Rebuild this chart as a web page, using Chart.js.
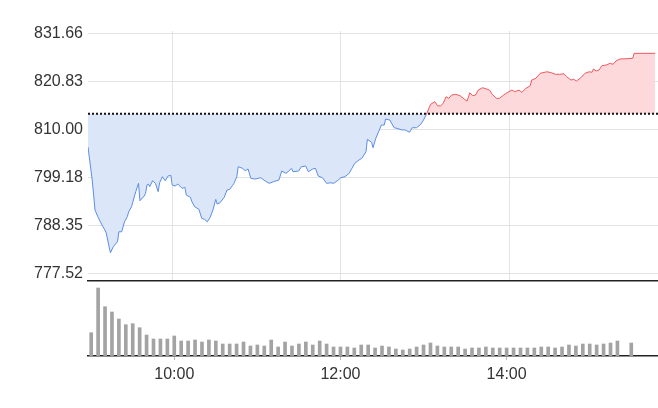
<!DOCTYPE html>
<html>
<head>
<meta charset="utf-8">
<script src="https://cdn.jsdelivr.net/npm/chart.js@4/dist/chart.umd.min.js"></script>
<style>
  body { margin: 0; background: #fff; }
  #price { position: absolute; left: 0; top: 0; }
  #vol { position: absolute; left: 0; top: 281px; }
</style>
</head>
<body>
<canvas id="price" width="658" height="282"></canvas>
<canvas id="vol" width="658" height="127"></canvas>
<script>
// previous close (dotted line)
var prevClose = 813.52

// y axis labels
var yTickLabels = ['777.52', '788.35', '799.18', '810.00', '820.83', '831.66']
// x axis labels
var xTickLabels = ['10:00', '12:00', '14:00']

// intraday price
var times = ['09:00','09:03','09:05','09:07','09:10','09:12','09:13','09:15','09:16','09:18',
  '09:21','09:22','09:24','09:26','09:28','09:29','09:31','09:32','09:34','09:36',
  '09:37','09:40','09:41','09:42','09:43','09:44','09:46','09:48','09:50','09:51',
  '09:53','09:55','09:57','09:59','10:00','10:02','10:04','10:07','10:09','10:10',
  '10:13','10:14','10:16','10:19','10:21','10:23','10:25','10:27','10:29','10:31',
  '10:32','10:34','10:37','10:39','10:41','10:43','10:44','10:46','10:47','10:50',
  '10:52','10:54','10:56','10:59','11:03','11:06','11:09','11:12','11:16','11:18',
  '11:21','11:23','11:25','11:26','11:30','11:32','11:35','11:37','11:40','11:42',
  '11:44','11:47','11:50','11:53','11:55','11:58','12:00','12:03','12:06','12:08',
  '12:10','12:13','12:15','12:18','12:19','12:22','12:23','12:25','12:27','12:29',
  '12:31','12:32','12:35','12:38','12:40','12:43','12:46','12:49','12:51','12:54',
  '12:57','12:59','13:01','13:03','13:04','13:07','13:09','13:11','13:13','13:15',
  '13:17','13:19','13:22','13:25','13:28','13:30','13:32','13:34','13:36','13:38',
  '13:41','13:44','13:46','13:48','13:51','13:53','13:56','13:59','14:02','14:04',
  '14:07','14:09','14:12','14:15','14:16','14:19','14:22','14:27','14:30','14:33',
  '14:36','14:39','14:41','14:44','14:46','14:48','14:51','14:54','14:57','14:59',
  '15:00','15:02','15:04','15:06','15:09','15:12','15:14','15:16','15:19','15:23',
  '15:28','15:29','15:44']
var prices = [806.00, 798.56, 791.79, 790.28, 788.40, 787.28, 786.60, 783.51, 782.15, 783.51,
  784.64, 786.89, 786.89, 789.15, 790.28, 791.40, 792.53, 793.66, 795.92, 797.81,
  793.89, 794.95, 795.56, 797.43, 797.65, 797.05, 798.40, 797.81, 795.92, 797.95,
  799.30, 798.40, 799.46, 799.62, 797.43, 797.20, 797.65, 796.68, 796.91, 795.17,
  794.65, 793.66, 792.53, 791.95, 789.91, 789.69, 789.15, 790.14, 791.79, 794.20,
  793.14, 793.43, 794.65, 796.30, 796.46, 797.36, 797.81, 799.30, 801.56, 801.20,
  800.66, 801.04, 798.94, 798.78, 799.08, 798.40, 797.81, 798.17, 798.56, 800.59,
  800.07, 800.59, 801.20, 800.43, 800.59, 801.56, 801.72, 800.43, 801.04, 801.20,
  799.46, 799.08, 797.81, 797.95, 797.81, 798.49, 799.08, 799.30, 800.07, 801.20,
  802.32, 803.07, 803.45, 804.94, 807.74, 807.06, 805.84, 807.97, 809.45, 810.97,
  810.97, 812.32, 812.09, 810.36, 810.22, 809.91, 809.84, 809.32, 810.36, 810.36,
  811.12, 812.09, 813.38, 814.87, 815.64, 816.22, 815.32, 815.25, 815.86, 817.35,
  816.99, 817.74, 817.89, 817.58, 816.83, 816.38, 818.25, 817.58, 817.74, 818.86,
  819.38, 819.09, 818.86, 817.89, 816.99, 816.99, 817.74, 818.34, 818.86, 818.48,
  818.86, 818.34, 819.25, 819.83, 821.12, 821.50, 822.63, 822.99, 822.77, 822.41,
  822.41, 822.54, 821.86, 821.12, 821.28, 820.89, 821.64, 822.63, 822.99, 822.86,
  823.60, 823.15, 823.38, 824.35, 824.50, 824.89, 824.66, 825.41, 825.86, 825.93,
  826.02, 827.14, 827.14]

// 5 minute volume (no trades 15:25)
var volTimes = ['09:00','09:05','09:10','09:15','09:20','09:25','09:30','09:35','09:40','09:45',
  '09:50','09:55','10:00','10:05','10:10','10:15','10:20','10:25','10:30','10:35',
  '10:40','10:45','10:50','10:55','11:00','11:05','11:10','11:15','11:20','11:25',
  '11:30','11:35','11:40','11:45','11:50','11:55','12:00','12:05','12:10','12:15',
  '12:20','12:25','12:30','12:35','12:40','12:45','12:50','12:55','13:00','13:05',
  '13:10','13:15','13:20','13:25','13:30','13:35','13:40','13:45','13:50','13:55',
  '14:00','14:05','14:10','14:15','14:20','14:25','14:30','14:35','14:40','14:45',
  '14:50','14:55','15:00','15:05','15:10','15:15','15:20','15:30']
var volumes = [2330, 6800, 4930, 4400, 3700, 3130, 3230, 2830, 2100, 1700,
  1700, 1700, 2000, 1500, 1500, 1600, 1400, 1600, 1500, 1200,
  1200, 1200, 1400, 1000, 1100, 1000, 1600, 900, 1400, 1000,
  1200, 1400, 1100, 1500, 1200, 900, 900, 900, 800, 1100,
  1100, 800, 1000, 900, 700, 600, 700, 900, 1100, 1300,
  1000, 900, 900, 900, 700, 800, 800, 900, 800, 800,
  800, 800, 800, 800, 800, 900, 900, 800, 900, 1100,
  1000, 1200, 1200, 1100, 1200, 1300, 1500, 1300]

var RED = '#f0585c'
var BLUE = '#5b8de6'
var FONT = { family: '"Liberation Sans", Arial, sans-serif', size: 16 }

function toMin(t) {
  var p = t.split(':')
  return parseInt(p[0], 10) * 60 + parseInt(p[1], 10)
}

var pricePts = []
for (let i = 0; i < times.length; i++) {
  pricePts.push({ x: toMin(times[i]), y: prices[i] })
}
var volPts = []
for (let i = 0; i < volTimes.length; i++) {
  volPts.push({ x: toMin(volTimes[i]), y: volumes[i] })
}

var priceChart = new Chart(document.getElementById('price'), {
  type: 'line',
  data: {
    datasets: [{
      data: [{ x: 540, y: prevClose }, { x: 946, y: prevClose }],
      borderColor: '#111',
      borderWidth: 2,
      borderDash: [2, 2],
      pointRadius: 0,
      fill: false,
      order: 0
    }, {
      data: pricePts,
      borderWidth: 1,
      pointRadius: 0,
      tension: 0,
      borderColor: BLUE,
      segment: {
        borderColor: function (c) {
          return (c.p0.parsed.y + c.p1.parsed.y) / 2 >= prevClose ? RED : BLUE
        }
      },
      fill: { target: { value: prevClose }, above: '#fdd9dc', below: '#dbe6f8' },
      order: 1
    }]
  },
  options: {
    responsive: false,
    animation: false,
    layout: { padding: { top: 31, left: 0, right: 0, bottom: 0 } },
    plugins: { legend: { display: false }, tooltip: { enabled: false } },
    scales: {
      x: {
        type: 'linear',
        min: 540,
        max: 946,
        afterBuildTicks: function (s) {
          s.ticks = xTickLabels.map(function (l) { return { value: toMin(l) } })
        },
        ticks: { display: false },
        grid: { color: '#e3e3e3', drawTicks: false },
        border: { color: '#222', width: 1.5 },
        afterFit: function (s) { s.height = 1 }
      },
      y: {
        min: 775.78,
        max: 832.18,
        afterBuildTicks: function (s) {
          s.ticks = yTickLabels.map(function (l) { return { value: parseFloat(l) } })
        },
        ticks: {
          callback: function (v, i) { return yTickLabels[i] },
          font: FONT,
          color: '#333',
          padding: 5
        },
        grid: { color: '#e3e3e3', drawTicks: false },
        border: { display: false },
        // label overflow must not shrink the plot
        afterFit: function (s) { s.width = 88; s.paddingTop = 0; s.paddingBottom = 0 }
      }
    }
  }
})

var volChart = new Chart(document.getElementById('vol'), {
  type: 'bar',
  data: {
    datasets: [{
      data: volPts,
      backgroundColor: '#a3a3a3',
      barThickness: 3
    }]
  },
  options: {
    responsive: false,
    animation: false,
    layout: { padding: { top: 0, left: 88, right: 0, bottom: 0 } },
    plugins: { legend: { display: false }, tooltip: { enabled: false } },
    scales: {
      x: {
        type: 'linear',
        min: 537.7,
        max: 949.3,
        offset: false,
        afterBuildTicks: function (s) {
          s.ticks = xTickLabels.map(function (l) { return { value: toMin(l) } })
        },
        ticks: {
          callback: function (v, i) { return xTickLabels[i] },
          font: FONT,
          color: '#333',
          padding: 5,
          maxRotation: 0,
          autoSkip: false
        },
        grid: { offset: false, drawOnChartArea: false, drawTicks: true, tickLength: 4, color: '#bbb' },
        border: { color: '#222', width: 1.5 },
        afterFit: function (s) { s.height = 52 }
      },
      y: { display: false, min: 0, max: 7500 }
    }
  }
})
</script>
</body>
</html>
